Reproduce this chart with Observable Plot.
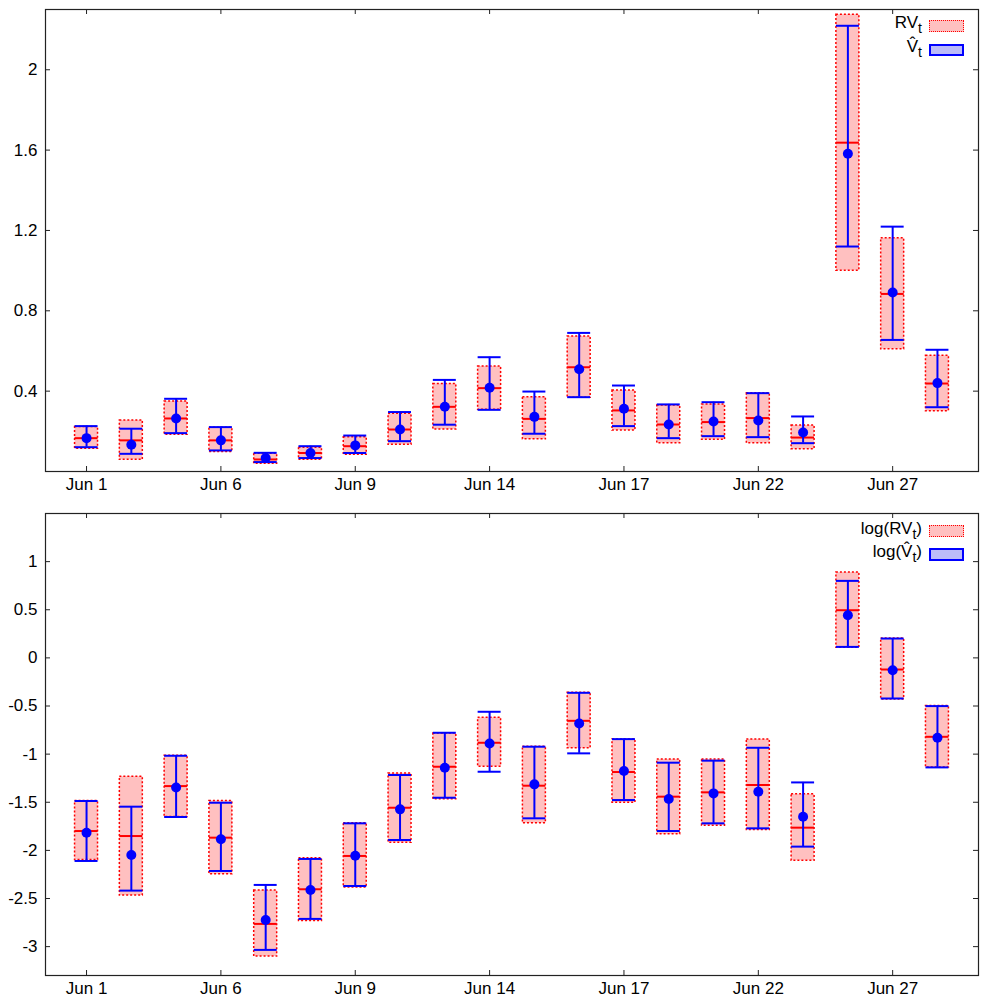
<!DOCTYPE html>
<html>
<head>
<meta charset="utf-8">
<script src="https://cdn.jsdelivr.net/npm/d3@7"></script>
<script src="https://cdn.jsdelivr.net/npm/@observablehq/plot@0.6"></script>
<style>
  html, body { margin: 0; padding: 0; background: #fff; }
  #wrap { position: relative; width: 981px; height: 1005px; font-family: "Liberation Sans", Arial, sans-serif; }
  #wrap svg { display: block; }
  .lt { position: absolute; font-size: 17px; line-height: 20px; color: #000; text-align: right; white-space: nowrap; }
  .lt sub { font-size: 14px; position: relative; top: 5px; vertical-align: baseline; line-height: 0; }
  .sw { position: absolute; box-sizing: border-box; }
  .sw.red { background: #ffc0c0; border: 1.5px dotted #ff0000; }
  .sw.blue { background: #bbbbf9; border: 2px solid #0000ff; }
</style>
</head>
<body>
<div id="wrap"></div>
<script>
// Trading days (category labels)
const dates = ["Jun 1","Jun 2","Jun 3","Jun 6","Jun 7","Jun 8","Jun 9","Jun 10","Jun 13","Jun 14",
               "Jun 15","Jun 16","Jun 17","Jun 20","Jun 21","Jun 22","Jun 23","Jun 24","Jun 27","Jun 28"];
const tickDates = ["Jun 1","Jun 6","Jun 9","Jun 14","Jun 17","Jun 22","Jun 27"];

// Top panel: RV_t box (low, high, median) and V-hat_t interval (low, high, point)
const rvLow  = [0.113,0.058,0.183,0.097,0.038,0.058,0.083,0.133,0.209,0.307,0.160,0.367,0.204,0.141,0.158,0.141,0.111,1.000,0.609,0.300];
const rvHigh = [0.221,0.254,0.349,0.218,0.088,0.118,0.171,0.287,0.436,0.523,0.370,0.672,0.403,0.329,0.334,0.390,0.229,2.274,1.161,0.576];
const rvMed  = [0.166,0.155,0.264,0.155,0.060,0.092,0.126,0.209,0.322,0.415,0.262,0.519,0.304,0.234,0.246,0.266,0.169,1.637,0.884,0.438];
const vLow   = [0.121,0.088,0.191,0.105,0.047,0.067,0.092,0.151,0.233,0.307,0.188,0.370,0.226,0.166,0.176,0.171,0.141,1.120,0.655,0.320];
const vHigh  = [0.226,0.213,0.362,0.221,0.093,0.126,0.179,0.296,0.456,0.569,0.398,0.690,0.428,0.334,0.345,0.390,0.274,2.219,1.219,0.606];
const vHat   = [0.166,0.133,0.264,0.155,0.067,0.092,0.130,0.209,0.322,0.417,0.272,0.509,0.312,0.234,0.249,0.254,0.194,1.582,0.891,0.440];

// Bottom panel: log(RV_t) and log(V-hat_t)
const lrvLow  = [-2.100,-2.470,-1.653,-2.248,-3.103,-2.733,-2.387,-1.920,-1.470,-1.131,-1.719,-0.940,-1.504,-1.833,-1.743,-1.788,-2.107,0.104,-0.432,-1.138];
const lrvHigh = [-1.487,-1.235,-1.017,-1.487,-2.418,-2.082,-1.719,-1.200,-0.785,-0.622,-0.923,-0.363,-0.847,-1.055,-1.055,-0.847,-1.418,0.886,0.201,-0.501];
const lrvMed  = [-1.799,-1.851,-1.332,-1.868,-2.764,-2.404,-2.058,-1.557,-1.131,-0.882,-1.328,-0.654,-1.186,-1.442,-1.397,-1.321,-1.764,0.495,-0.121,-0.820];
const lvLow   = [-2.110,-2.418,-1.653,-2.214,-3.034,-2.712,-2.370,-1.892,-1.453,-1.183,-1.667,-0.992,-1.477,-1.799,-1.719,-1.771,-1.961,0.114,-0.422,-1.138];
const lvHigh  = [-1.487,-1.546,-1.017,-1.505,-2.359,-2.089,-1.719,-1.217,-0.778,-0.560,-0.923,-0.363,-0.844,-1.089,-1.068,-0.934,-1.294,0.800,0.201,-0.501];
const lvHat   = [-1.816,-2.048,-1.346,-1.885,-2.723,-2.411,-2.055,-1.574,-1.141,-0.889,-1.314,-0.681,-1.176,-1.467,-1.408,-1.390,-1.650,0.443,-0.128,-0.830];

const topTicks = [0.4, 0.8, 1.2, 1.6, 2];
const botTicks = [-3, -2.5, -2, -1.5, -1, -0.5, 0, 0.5, 1];

const W = 981, ML = 45, MR = 3;
const RED = "#ff0000", PINK = "#ffc0c0", BLUE = "#0000ff", INK = "#222";

function panel(lo, hi, med, vlo, vhi, vm, yDomain, yTicks, height, mt, mb) {
  const rows = dates.map((d, i) => ({date: d, lo: lo[i], hi: hi[i], med: med[i], vlo: vlo[i], vhi: vhi[i], vm: vm[i]}));
  const iw = W - ML - MR, ih = height - mt - mb;
  return Plot.plot({
    width: W, height, marginLeft: ML, marginRight: MR, marginTop: mt, marginBottom: mb,
    style: {fontFamily: "Liberation Sans, Arial, sans-serif", fontSize: "17px", background: "#fff", color: "#000", overflow: "visible"},
    x: {type: "band", domain: dates, paddingInner: 0.487, paddingOuter: 0.66, align: 0.5, round: false},
    y: {domain: yDomain},
    marks: [
      Plot.barY(rows, {x: "date", y1: "lo", y2: "hi", fill: PINK}),
      Plot.barY(rows, {x: "date", y1: "lo", y2: "hi", fill: "none", stroke: RED, strokeWidth: 1.5, strokeDasharray: "2,2"}),
      Plot.tickY(rows, {x: "date", y: "med", stroke: RED, strokeWidth: 2}),
      Plot.ruleX(rows, {x: "date", y1: "vlo", y2: "vhi", stroke: BLUE, strokeWidth: 2}),
      Plot.tickY(rows, {x: "date", y: "vlo", stroke: BLUE, strokeWidth: 2}),
      Plot.tickY(rows, {x: "date", y: "vhi", stroke: BLUE, strokeWidth: 2}),
      Plot.dot(rows, {x: "date", y: "vm", r: 5, fill: BLUE}),
      Plot.gridX(tickDates, {stroke: INK, strokeOpacity: 1, strokeWidth: 1, insetTop: ih - 5}),
      Plot.gridX(tickDates, {stroke: INK, strokeOpacity: 1, strokeWidth: 1, insetBottom: ih - 5}),
      Plot.gridY(yTicks, {stroke: INK, strokeOpacity: 1, strokeWidth: 1, insetRight: iw - 5}),
      Plot.gridY(yTicks, {stroke: INK, strokeOpacity: 1, strokeWidth: 1, insetLeft: iw - 5}),
      Plot.axisX({ticks: tickDates, tickSize: 0, tickPadding: 6, label: null}),
      Plot.axisY({ticks: yTicks, tickSize: 0, tickPadding: 8, label: null, tickFormat: d => String(d)}),
      Plot.frame({stroke: INK, strokeWidth: 1.2})
    ]
  });
}

const wrap = document.getElementById("wrap");
wrap.appendChild(panel(rvLow, rvHigh, rvMed, vLow, vHigh, vHat, [0, 2.3], topTicks, 502, 9, 31));
wrap.appendChild(panel(lrvLow, lrvHigh, lrvMed, lvLow, lvHigh, lvHat, [-3.3, 1.5], botTicks, 503, 11, 30));

// Legends (HTML overlay so that subscripts stay real text)
const legendItems = [
  {html: "RV<sub>t</sub>", cls: "red", base: 29, swTop: 20, swH: 12},
  {html: "V\u0302<sub>t</sub>", cls: "blue", base: 53, swTop: 43.5, swH: 12},
  {html: "log(RV<sub>t</sub>)", cls: "red", base: 535, swTop: 525, swH: 12},
  {html: "log(V\u0302<sub>t</sub>)", cls: "blue", base: 558, swTop: 548, swH: 12.5}
];
for (const it of legendItems) {
  const t = document.createElement("div");
  t.className = "lt";
  t.innerHTML = it.html;
  t.style.right = (W - 922) + "px";
  t.style.top = (it.base - 16) + "px";
  wrap.appendChild(t);
  const s = document.createElement("div");
  s.className = "sw " + it.cls;
  s.style.left = "929px";
  s.style.width = "35px";
  s.style.top = it.swTop + "px";
  s.style.height = it.swH + "px";
  wrap.appendChild(s);
}
</script>
</body>
</html>
